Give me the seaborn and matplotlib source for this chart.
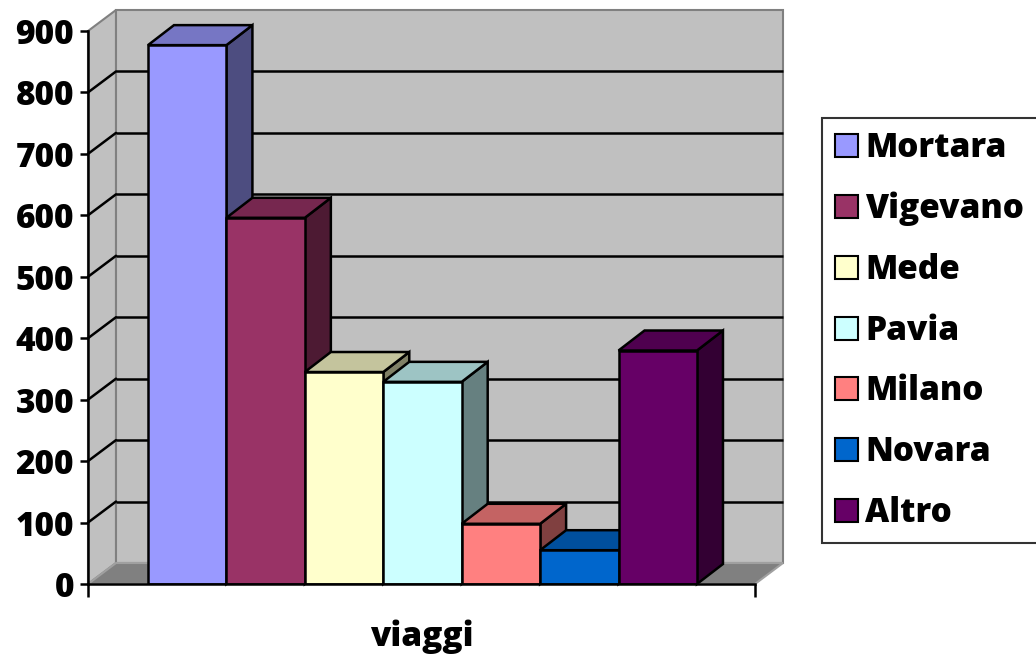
import matplotlib.pyplot as plt
import numpy as np
import seaborn as sns
from matplotlib.colors import to_rgb
from matplotlib.patches import Patch, Polygon

cities = ["Mortara", "Vigevano", "Mede", "Pavia", "Milano", "Novara", "Altro"]
trips = [877, 596, 345, 329, 98, 55, 380]
colors = ["#9999FF", "#993366", "#FFFFCC", "#CCFFFF", "#FF8080", "#0066CC", "#660066"]
y_ticks = [0, 100, 200, 300, 400, 500, 600, 700, 800, 900]

sns.set_style("white")
plt.rcParams["font.family"] = ["Open Sans", "DejaVu Sans"]
plt.rcParams["font.weight"] = "bold"
plt.rcParams["text.color"] = "black"
plt.rcParams["axes.labelcolor"] = "black"
plt.rcParams["ytick.color"] = "black"
plt.rcParams["xtick.color"] = "black"

W, H = 1036, 657
fig = plt.figure(figsize=(W / 100, H / 100), dpi=100)
# axes box = front plane of the 3D chart (pixels 88..755, 584..31)
ax = fig.add_axes([88 / W, (H - 584) / H, (755 - 88) / W, (584 - 31) / H])

xl, xr = -1.265, 7.24
ax.set_xlim(xl, xr)
ax.set_ylim(0, 900)

px_x = (755 - 88) / (xr - xl)
px_y = (584 - 31) / 900
wdx, wdy = 28 / px_x, 21 / px_y  # wall depth
bdx, bdy = 26 / px_x, 20 / px_y  # bar depth

wall = "#C0C0C0"
edge_gray = "#808080"
fw = "heavy"

# floor, side wall, back wall
floor = Polygon([(xl, 0), (xr, 0), (xr + wdx, wdy), (xl + wdx, wdy)],
                closed=True, fc=edge_gray, ec="#A0A0A0", lw=1.5, clip_on=False, zorder=0.2)
side = Polygon([(xl, 0), (xl + wdx, wdy), (xl + wdx, 900 + wdy), (xl, 900)],
               closed=True, fc=wall, ec=edge_gray, lw=1.5, clip_on=False, zorder=0.1)
back = Polygon([(xl + wdx, wdy), (xr + wdx, wdy), (xr + wdx, 900 + wdy), (xl + wdx, 900 + wdy)],
               closed=True, fc=wall, ec=edge_gray, lw=1.5, clip_on=False, zorder=0.1)
for p in (floor, side, back):
    ax.add_patch(p)

for v in y_ticks[1:-1]:
    ax.plot([xl + wdx, xr + wdx], [v + wdy, v + wdy], color="black", lw=1.8,
            clip_on=False, zorder=0.5, solid_capstyle="butt")
    ax.plot([xl, xl + wdx], [v, v + wdy], color="black", lw=1.8,
            clip_on=False, zorder=0.5)

sns.barplot(x=cities, y=trips, hue=cities, palette=colors, width=1.0, saturation=1,
            edgecolor="black", linewidth=1.8, legend=False, ax=ax)

for i, bar in enumerate(ax.patches[3:]):
    x0 = bar.get_x()
    x1 = x0 + bar.get_width()
    h = bar.get_height()
    base = np.array(to_rgb(colors[i]))
    top = Polygon([(x0, h), (x1, h), (x1 + bdx, h + bdy), (x0 + bdx, h + bdy)],
                  closed=True, fc=base * 0.77, ec="black", lw=1.8, clip_on=False,
                  zorder=3 + 3 * i + 1, joinstyle="miter")
    sidef = Polygon([(x1, 0), (x1 + bdx, bdy), (x1 + bdx, h + bdy), (x1, h)],
                    closed=True, fc=base * 0.5, ec="black", lw=1.8, clip_on=False,
                    zorder=3 + 3 * i, joinstyle="miter")
    ax.add_patch(sidef)
    ax.add_patch(top)
    bar.set_zorder(3 + 3 * i + 2)
    bar.set_joinstyle("miter")

for s in ("top", "right"):
    ax.spines[s].set_visible(False)
for s in ("left", "bottom"):
    ax.spines[s].set_linewidth(1.8)
    ax.spines[s].set_color("black")
    ax.spines[s].set_zorder(40)

ax.set_yticks(y_ticks)
ax.set_yticklabels([str(t) for t in y_ticks], fontsize=24, fontweight=fw)
ax.set_xticks([xl, xr])
ax.set_xticklabels(["", ""])
ax.tick_params(axis="y", direction="out", length=6, width=1.8, left=True, pad=4)
ax.tick_params(axis="x", direction="out", length=9, width=1.8, bottom=True)
ax.set_xlabel("viaggi", fontsize=24, fontweight=fw, labelpad=13)
ax.set_ylabel("")
ax.patch.set_visible(False)

handles = [Patch(fc=c, ec="black", lw=1.5) for c in colors]
leg = fig.legend(handles, cities, loc="upper left",
                 bbox_to_anchor=(822 / W, 1 - 118 / H), frameon=True, fancybox=False,
                 prop={"size": 24, "weight": fw}, handlelength=0.68, handleheight=0.68,
                 handletextpad=0.22, labelspacing=0.8, borderpad=0.4, borderaxespad=0)
leg.get_frame().set_edgecolor("black")
leg.get_frame().set_linewidth(1.5)

fig.savefig("out.png", dpi=100)
